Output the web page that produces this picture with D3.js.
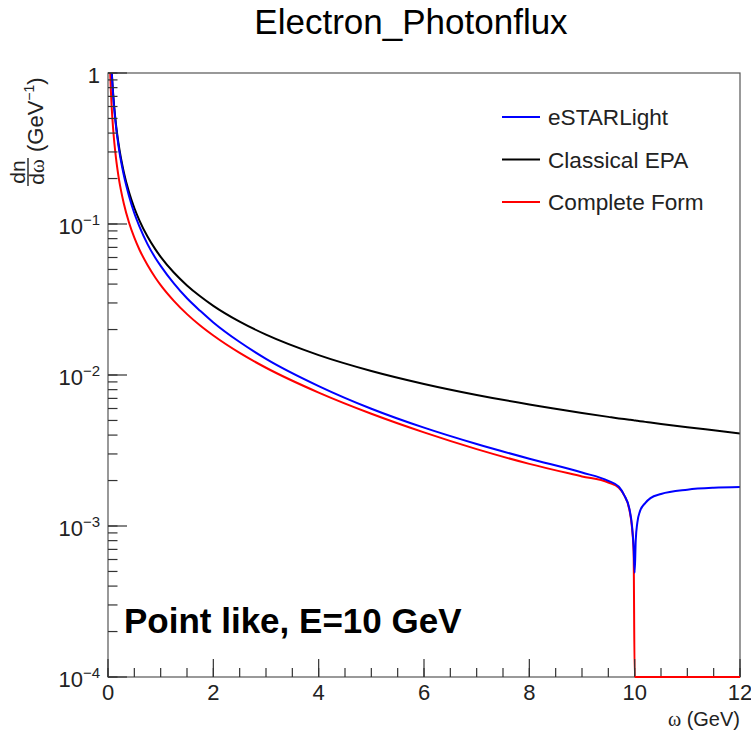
<!DOCTYPE html>
<html>
<head>
<meta charset="utf-8">
<script src="https://cdn.jsdelivr.net/npm/d3@7"></script>
<style>
  html, body { margin: 0; padding: 0; background: #fff; }
  text { font-family: "Liberation Sans", Arial, sans-serif; }
</style>
</head>
<body>
<div id="chart"></div>
<script>
// photon energy grid (GeV)
var omega = [0.03, 0.04, 0.05, 0.07, 0.1, 0.15, 0.2, 0.3, 0.4, 0.5, 0.6, 0.75, 0.9, 1, 1.25, 1.5, 1.75, 2, 2.5, 3, 4, 5, 6, 7, 8, 9, 9.5, 9.7, 9.8, 9.9, 9.95, 9.98, 10, 10.02, 10.05, 10.1, 10.2, 10.3, 10.5, 11, 11.5, 12];

// dn/dw values
var eStarlight = [2.53, 1.864, 1.464, 1.019, 0.696, 0.449, 0.328, 0.2106, 0.1528, 0.1178, 0.0958, 0.0736, 0.0596, 0.0528, 0.0404, 0.0322, 0.0266, 0.0223, 0.01653, 0.0128, 0.00845, 0.00598, 0.00448, 0.00349, 0.00279, 0.00226, 0.00199, 0.00182, 0.0016, 0.0013, 0.001, 0.00072, 0.00049, 0.0008, 0.00105, 0.00125, 0.00142, 0.00153, 0.00163, 0.00174, 0.00179, 0.00181];
var classicalEPA = [2.56, 1.885, 1.488, 1.04, 0.712, 0.462, 0.34, 0.2205, 0.162, 0.1276, 0.105, 0.0826, 0.0679, 0.0606, 0.0477, 0.0392, 0.0332, 0.0287, 0.02255, 0.0185, 0.01355, 0.01064, 0.00873, 0.00738, 0.00638, 0.00561, 0.00528, 0.00516, 0.00511, 0.005055, 0.005027, 0.005011, 0.005, 0.00499, 0.004973, 0.004946, 0.004893, 0.004841, 0.00474, 0.00451, 0.0043, 0.0041];
var completeForm = [1.40, 1.05, 0.838, 0.597, 0.416, 0.276, 0.206, 0.1367, 0.102, 0.0812, 0.0673, 0.0535, 0.0441, 0.0394, 0.031, 0.0253, 0.02126, 0.01825, 0.014, 0.01117, 0.00765, 0.00554, 0.00417, 0.00323, 0.00258, 0.00213, 0.00194, 0.00179, 0.0016, 0.00128, 0.00097, 0.00068, 0, 0, 0, 0, 0, 0, 0, 0, 0, 0];

var seriesNames = ["eSTARLight", "Classical EPA", "Complete Form"];
var seriesColors = ["#0000ff", "#000000", "#ff0000"];

var xDomain = [0, 12];
var yDomain = [1e-4, 1];

var W = 751, H = 731;
var margin = { left: 108, right: 11, top: 73, bottom: 54 };

var svg = d3.select("#chart").append("svg")
  .attr("width", W)
  .attr("height", H);

svg.append("rect").attr("width", W).attr("height", H).attr("fill", "#fff");

var x = d3.scaleLinear().domain(xDomain).range([margin.left, W - margin.right]);
var y = d3.scaleLog().domain(yDomain).range([H - margin.bottom, margin.top]);

svg.append("defs").append("clipPath").attr("id", "frame")
  .append("rect")
  .attr("x", x(xDomain[0])).attr("y", y(yDomain[1]))
  .attr("width", x(xDomain[1]) - x(xDomain[0]))
  .attr("height", y(yDomain[0]) - y(yDomain[1]));

// title
svg.append("text")
  .attr("x", 411).attr("y", 34)
  .attr("text-anchor", "middle")
  .style("font-size", "35px")
  .text("Electron_Photonflux");

// curves
var line = d3.line()
  .x(function (d) { return x(d[0]); })
  .y(function (d) { return y(Math.max(d[1], yDomain[0])); })
  .curve(d3.curveMonotoneX);

var table = [
  { name: seriesNames[1], color: seriesColors[1], values: classicalEPA },
  { name: seriesNames[2], color: seriesColors[2], values: completeForm },
  { name: seriesNames[0], color: seriesColors[0], values: eStarlight }
];

var curves = svg.append("g").attr("clip-path", "url(#frame)");
table.forEach(function (s) {
  curves.append("path")
    .datum(omega.map(function (w, i) { return [w, s.values[i]]; }))
    .attr("fill", "none")
    .attr("stroke", s.color)
    .attr("stroke-width", 2)
    .attr("d", line);
});

// frame
var axisColor = "#333";
var x0 = x(xDomain[0]), x1 = x(xDomain[1]), y0 = y(yDomain[0]), y1 = y(yDomain[1]);
svg.append("rect")
  .attr("x", x0).attr("y", y1)
  .attr("width", x1 - x0).attr("height", y0 - y1)
  .attr("fill", "none")
  .attr("stroke", "#555")
  .attr("stroke-width", 1.2);

// x ticks (inside)
var xMajor = x.ticks(6), xMinor = x.ticks(24);
svg.selectAll(".xminor").data(xMinor).enter().append("line")
  .attr("x1", function (d) { return x(d); }).attr("x2", function (d) { return x(d); })
  .attr("y1", y0).attr("y2", y0 - 9)
  .attr("stroke", axisColor).attr("stroke-width", 1.2);
svg.selectAll(".xmajor").data(xMajor).enter().append("line")
  .attr("x1", function (d) { return x(d); }).attr("x2", function (d) { return x(d); })
  .attr("y1", y0).attr("y2", y0 - 18)
  .attr("stroke", axisColor).attr("stroke-width", 1.2);
svg.selectAll(".xlab").data(xMajor).enter().append("text")
  .attr("x", function (d) { return x(d); })
  .attr("y", y0 + 23)
  .attr("text-anchor", "middle")
  .style("font-size", "22px")
  .attr("fill", "#222")
  .text(function (d) { return d; });

// red part sitting on the bottom axis redrawn above the frame
svg.append("path")
  .datum(omega.map(function (w, i) { return [w, completeForm[i]]; }).filter(function (d) { return d[0] >= 10; }))
  .attr("fill", "none")
  .attr("stroke", seriesColors[2])
  .attr("stroke-width", 2)
  .attr("d", line);

// x title
var xt = svg.append("text")
  .attr("x", x1).attr("y", 726)
  .attr("text-anchor", "end")
  .style("font-size", "20px")
  .attr("fill", "#222");
xt.append("tspan").style("font-family", "'Liberation Serif', serif").text("ω");
xt.append("tspan").text(" (GeV)");

// y ticks (inside)
var yMinor = y.ticks();
var yMajor = yMinor.filter(function (d) { return Math.abs(Math.log10(d) - Math.round(Math.log10(d))) < 1e-9; });
svg.selectAll(".yminor").data(yMinor).enter().append("line")
  .attr("x1", x0).attr("x2", x0 + 9.5)
  .attr("y1", function (d) { return y(d); }).attr("y2", function (d) { return y(d); })
  .attr("stroke", axisColor).attr("stroke-width", 1.2);
svg.selectAll(".ymajor").data(yMajor).enter().append("line")
  .attr("x1", x0).attr("x2", x0 + 19)
  .attr("y1", function (d) { return y(d); }).attr("y2", function (d) { return y(d); })
  .attr("stroke", axisColor).attr("stroke-width", 1.2);

yMajor.forEach(function (d) {
  var e = Math.round(Math.log10(d));
  var t = svg.append("text")
    .attr("x", x0 - 8)
    .attr("y", y(d) + 10)
    .attr("text-anchor", "end")
    .style("font-size", "22px")
    .attr("fill", "#222");
  if (e === 0) {
    t.text("1");
  } else {
    t.append("tspan").text("10");
    t.append("tspan").attr("dy", -9).style("font-size", "15px").text("\u2212" + Math.abs(e));
  }
});

// y title: dn/dw (GeV^-1), rotated
var yt = svg.append("g").attr("transform", "translate(43,152) rotate(-90)");
var yl = yt.append("text").attr("x", 0).attr("y", 0).style("font-size", "22px").attr("fill", "#222");
yl.append("tspan").text("(GeV");
yl.append("tspan").attr("dy", -9).style("font-size", "14px").text("\u22121");
yl.append("tspan").attr("dy", 9).text(")");
yt.append("text").attr("x", -20).attr("y", -18).attr("text-anchor", "middle")
  .style("font-size", "21px").attr("fill", "#222").text("dn");
yt.append("line").attr("x1", -34).attr("x2", -6).attr("y1", -15).attr("y2", -15)
  .attr("stroke", "#222").attr("stroke-width", 1.4);
var den = yt.append("text").attr("x", -20).attr("y", 1).attr("text-anchor", "middle")
  .style("font-size", "21px").attr("fill", "#222");
den.append("tspan").text("d");
den.append("tspan").style("font-family", "'Liberation Serif', serif").text("ω");

// legend
var legend = svg.append("g");
seriesNames.forEach(function (name, i) {
  var ly = 117 + i * 42.5;
  legend.append("line")
    .attr("x1", 502).attr("x2", 540).attr("y1", ly).attr("y2", ly)
    .attr("stroke", seriesColors[i]).attr("stroke-width", 2);
  legend.append("text")
    .attr("x", 548).attr("y", ly + 8)
    .style("font-size", "22.6px")
    .attr("fill", "#222")
    .text(name);
});

// annotation
svg.append("text")
  .attr("x", 124).attr("y", 633)
  .style("font-size", "35px")
  .style("font-weight", "bold")
  .text("Point like, E=10 GeV");
</script>
</body>
</html>
